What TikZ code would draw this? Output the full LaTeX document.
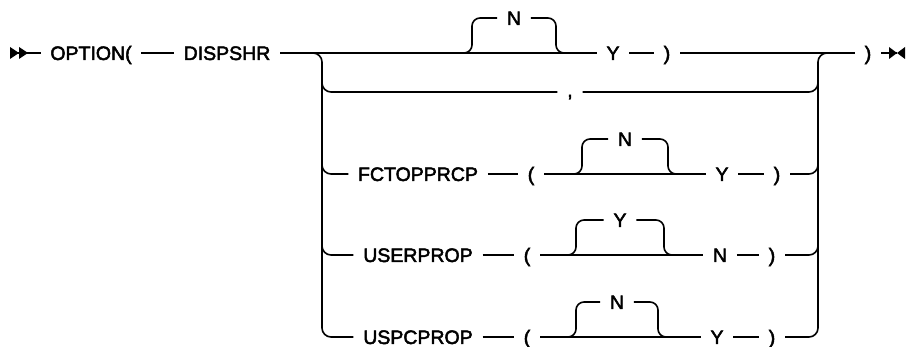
\documentclass[tikz,border=0pt]{standalone}
\usepackage{fontspec}
\setmainfont{Liberation Sans}[FakeBold=2.5]
\usetikzlibrary{positioning}

\begin{document}
\begin{tikzpicture}[x=1pt,y=-1pt,line width=1.6pt,font=\fontsize{19.5}{23}\selectfont]
    \tikzstyle{tok}=[inner xsep=9pt, inner ysep=0pt, text height=14pt, text depth=0pt, on grid]
    \useasboundingbox (0,0) rectangle (906,347);

    % main line
    \coordinate (beg) at (10,53);
    \node[tok] (opt) at (91,53) {OPTION(};
    \node[tok,right=136pt of opt] (disp) {DISPSHR};
    \node[tok,right=386pt of disp] (y0) {Y};
    \node[tok,right=54pt of y0] (rp0) {)};
    \node[tok,right=201pt of rp0] (rp1) {)};
    \coordinate (fin) at (897,53);

    % alternatives
    \node[tok,text height=10pt] (comma) at (570,92) {,};

    \node[tok] (fct) at (418,174) {FCTOPPRCP};
    \node[tok,right=113pt of fct] (lp2) {(};
    \node[tok,right=191pt of lp2] (y2) {Y};
    \node[tok,right=55pt of y2] (rp2) {)};

    \node[tok] (usr) at (418,255) {USERPROP};
    \node[tok,right=109pt of usr] (lp3) {(};
    \node[tok,right=193pt of lp3] (n3) {N};
    \node[tok,right=52pt of n3] (rp3) {)};

    \node[tok] (uspc) at (418,337) {USPCPROP};
    \node[tok,right=109pt of uspc] (lp4) {(};
    \node[tok,right=190pt of lp4] (y4) {Y};
    \node[tok,right=55pt of y4] (rp4) {)};

    % branch points
    \coordinate (lt) at (300,53);
    \coordinate (lv) at (322,53);
    \coordinate (l1) at (322,70);
    \coordinate (l2) at (322,150);
    \coordinate (l3) at (322,230);
    \coordinate (rv) at (818,53);
    \coordinate (rt) at (840,53);
    \coordinate (r1) at (818,70);
    \coordinate (r2) at (818,150);
    \coordinate (r3) at (818,230);

    % defaults above the line
    \foreach \nm/\xa/\xb/\yy/\lab in {d0/463/565/53/N, d2/573/677/174/N, d3/567/673/255/Y, d4/567/667/337/N} {
        \coordinate (\nm a) at (\xa,\yy);
        \coordinate (\nm b) at (\xb,\yy);
        \node[tok] (\nm) at ({(\xa+\xb)/2},\yy-35) {\lab};
        \draw[rounded corners=8] (\nm a) -| ([xshift=9pt]\nm a |- \nm) -- (\nm);
        \draw[rounded corners=8] (\nm) -| ([xshift=-9pt]\nm b |- \nm b) -- (\nm b);
    }

    \draw (beg) -- (opt);
    \draw (opt) -- (disp);
    \draw (disp) -- (y0);
    \draw (y0) -- (rp0);
    \draw (rp0) -- (rp1);
    \draw (rp1) -- (fin);
    \fill (beg) ++(0,-6) -- ++(9,6) -- ++(-9,6) -- cycle;
    \fill (beg) ++(9,-6) -- ++(9,6) -- ++(-9,6) -- cycle;
    \fill (fin) ++(-8,-6) -- (fin) -- ++(-8,6) -- cycle;
    \fill (fin) -- ++(8,-6) -- ++(0,12) -- cycle;

    \draw[rounded corners=9] (lt) -- (lv) |- (uspc);
    \draw[rounded corners=9] (rp4) -| (rv) -- (rt);

    \draw[rounded corners=9] (l1) |- (comma);
    \draw[rounded corners=9] (comma) -| (r1);

    \draw[rounded corners=9] (l2) |- (fct);
    \draw (fct) -- (lp2);
    \draw (lp2) -- (y2);
    \draw (y2) -- (rp2);
    \draw[rounded corners=9] (rp2) -| (r2);

    \draw[rounded corners=9] (l3) |- (usr);
    \draw (usr) -- (lp3);
    \draw (lp3) -- (n3);
    \draw (n3) -- (rp3);
    \draw[rounded corners=9] (rp3) -| (r3);

    \draw (uspc) -- (lp4);
    \draw (lp4) -- (y4);
    \draw (y4) -- (rp4);
\end{tikzpicture}
\end{document}
